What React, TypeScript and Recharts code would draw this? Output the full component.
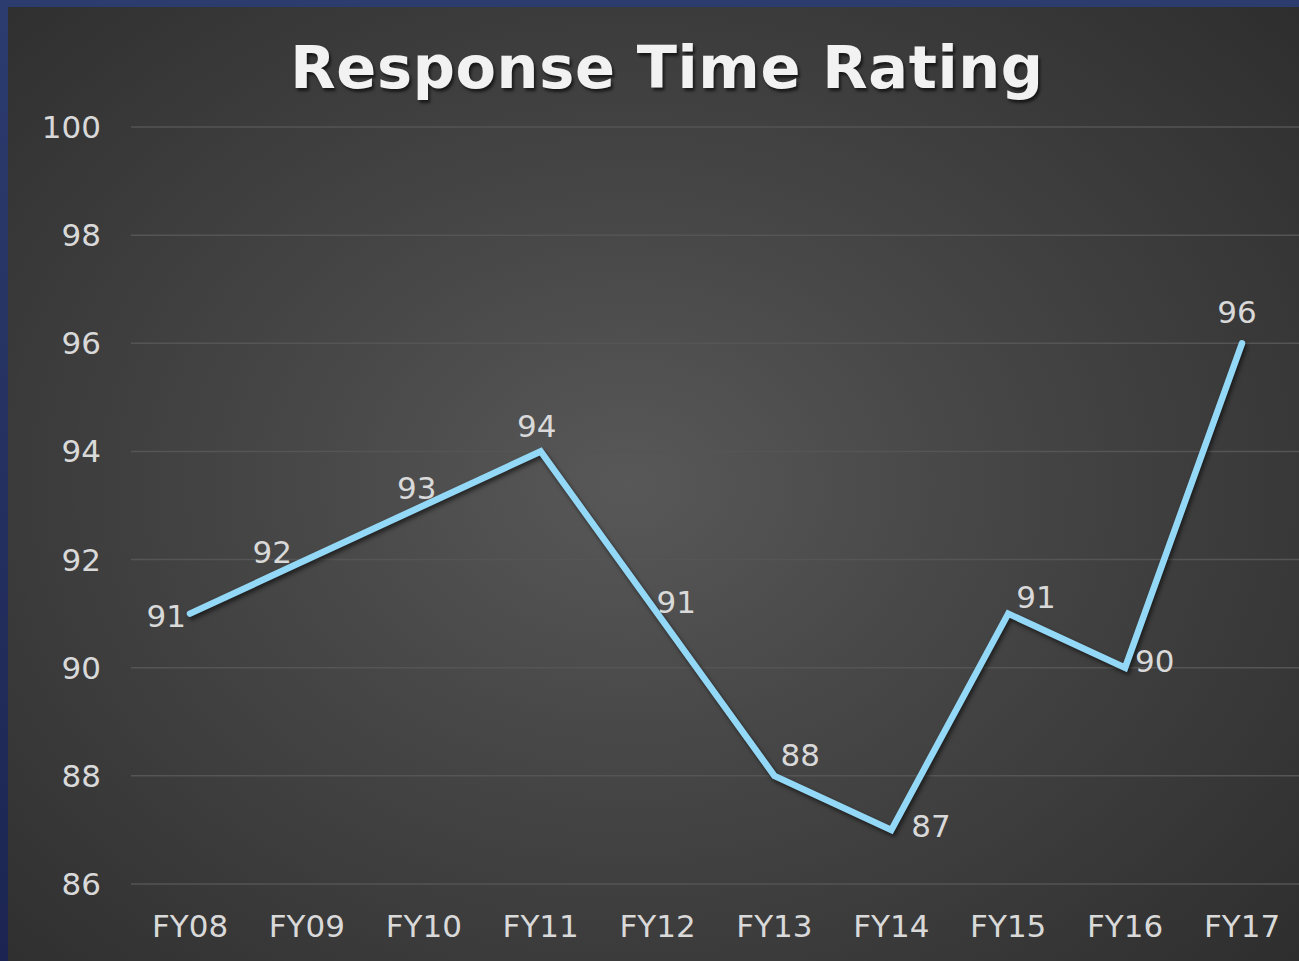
import React from "react";
import { LineChart, Line, XAxis, YAxis, CartesianGrid } from "recharts";

const categories = ["FY08", "FY09", "FY10", "FY11", "FY12", "FY13", "FY14", "FY15", "FY16", "FY17"];
const ratings = [91, 92, 93, 94, 91, 88, 87, 91, 90, 96];
const yTicks = [86, 88, 90, 92, 94, 96, 98, 100];
const title = "Response Time Rating";

// label placement relative to point: [dx, dy, anchor]
const labelPlacement: [number, number, "start" | "middle" | "end"][] = [
  [-4, 2, "end"],
  [-15, -8, "end"],
  [-7, -18, "middle"],
  [-4, -25, "middle"],
  [-1, -12, "start"],
  [6, -21, "start"],
  [20, -4, "start"],
  [8, -17, "start"],
  [10, -7, "start"],
  [-5, -31, "middle"],
];

const data = categories.map((c, i) => ({ category: c, rating: ratings[i] }));

const FONT = "'DejaVu Sans', Verdana, sans-serif";

const renderLabel = (props: any) => {
  const { x, y, value, index } = props;
  const p = labelPlacement[index] || [0, -20, "middle"];
  return (
    <text
      x={x + p[0]}
      y={y + p[1]}
      textAnchor={p[2]}
      dominantBaseline="central"
      fill="#d9d9d9"
      fontSize={31}
      fontFamily={FONT}
    >
      {value}
    </text>
  );
};

export default function App() {
  return (
    <div
      style={{
        position: "fixed",
        left: 0,
        top: 0,
        width: 1299,
        height: 961,
        overflow: "hidden",
        background: "linear-gradient(180deg, #2c3c6e 0%, #1c2552 100%)",
      }}
    >
      <style>{`.rt-line .recharts-line-curve { filter: drop-shadow(2px 3px 2px rgba(0,0,0,0.55)); }`}</style>
      <div
        style={{
          position: "absolute",
          left: 8,
          top: 7,
          width: 1291,
          height: 954,
          background:
            "radial-gradient(ellipse 75% 80% at 48% 50%, #585858 0%, #474747 35%, #2b2b2b 100%)",
        }}
      />
      <div
        style={{
          position: "absolute",
          left: 8,
          top: 7,
          width: 1291,
          height: 954,
        }}
      >
        <div
          style={{
            position: "absolute",
            left: 0,
            width: 1318,
            top: 26,
            textAlign: "center",
            fontFamily: FONT,
            fontWeight: "bold",
            fontSize: 59,
            lineHeight: "70px",
            letterSpacing: 0.6,
            color: "#f2f2f2",
            textShadow: "2px 3px 3px rgba(0,0,0,0.6)",
          }}
        >
          {title}
        </div>
        <div style={{ position: "absolute", left: 0, top: 0 }}>
          <LineChart
            width={1291}
            height={954}
            data={data}
            margin={{ top: 120, right: 0, bottom: 0, left: 0 }}
          >
            <CartesianGrid vertical={false} stroke="#555555" strokeWidth={1.5} />
            <XAxis
              dataKey="category"
              axisLine={false}
              tickLine={false}
              tickSize={0}
              tickMargin={31}
              height={77}
              interval={0}
              padding={{ left: 59, right: 57 }}
              tick={{ fill: "#d9d9d9", fontSize: 31, fontFamily: FONT }}
            />
            <YAxis
              domain={[86, 100]}
              ticks={yTicks}
              axisLine={false}
              tickLine={false}
              tickSize={0}
              tickMargin={30}
              width={123}
              interval={0}
              tick={{ fill: "#d9d9d9", fontSize: 31, fontFamily: FONT }}
            />
            <Line
              className="rt-line"
              type="linear"
              dataKey="rating"
              stroke="#93d9f7"
              strokeWidth={6.5}
              strokeLinecap="round"
              strokeLinejoin="miter"
              dot={false}
              activeDot={false}
              label={renderLabel}
              isAnimationActive={false}
            />
          </LineChart>
        </div>
      </div>
    </div>
  );
}
